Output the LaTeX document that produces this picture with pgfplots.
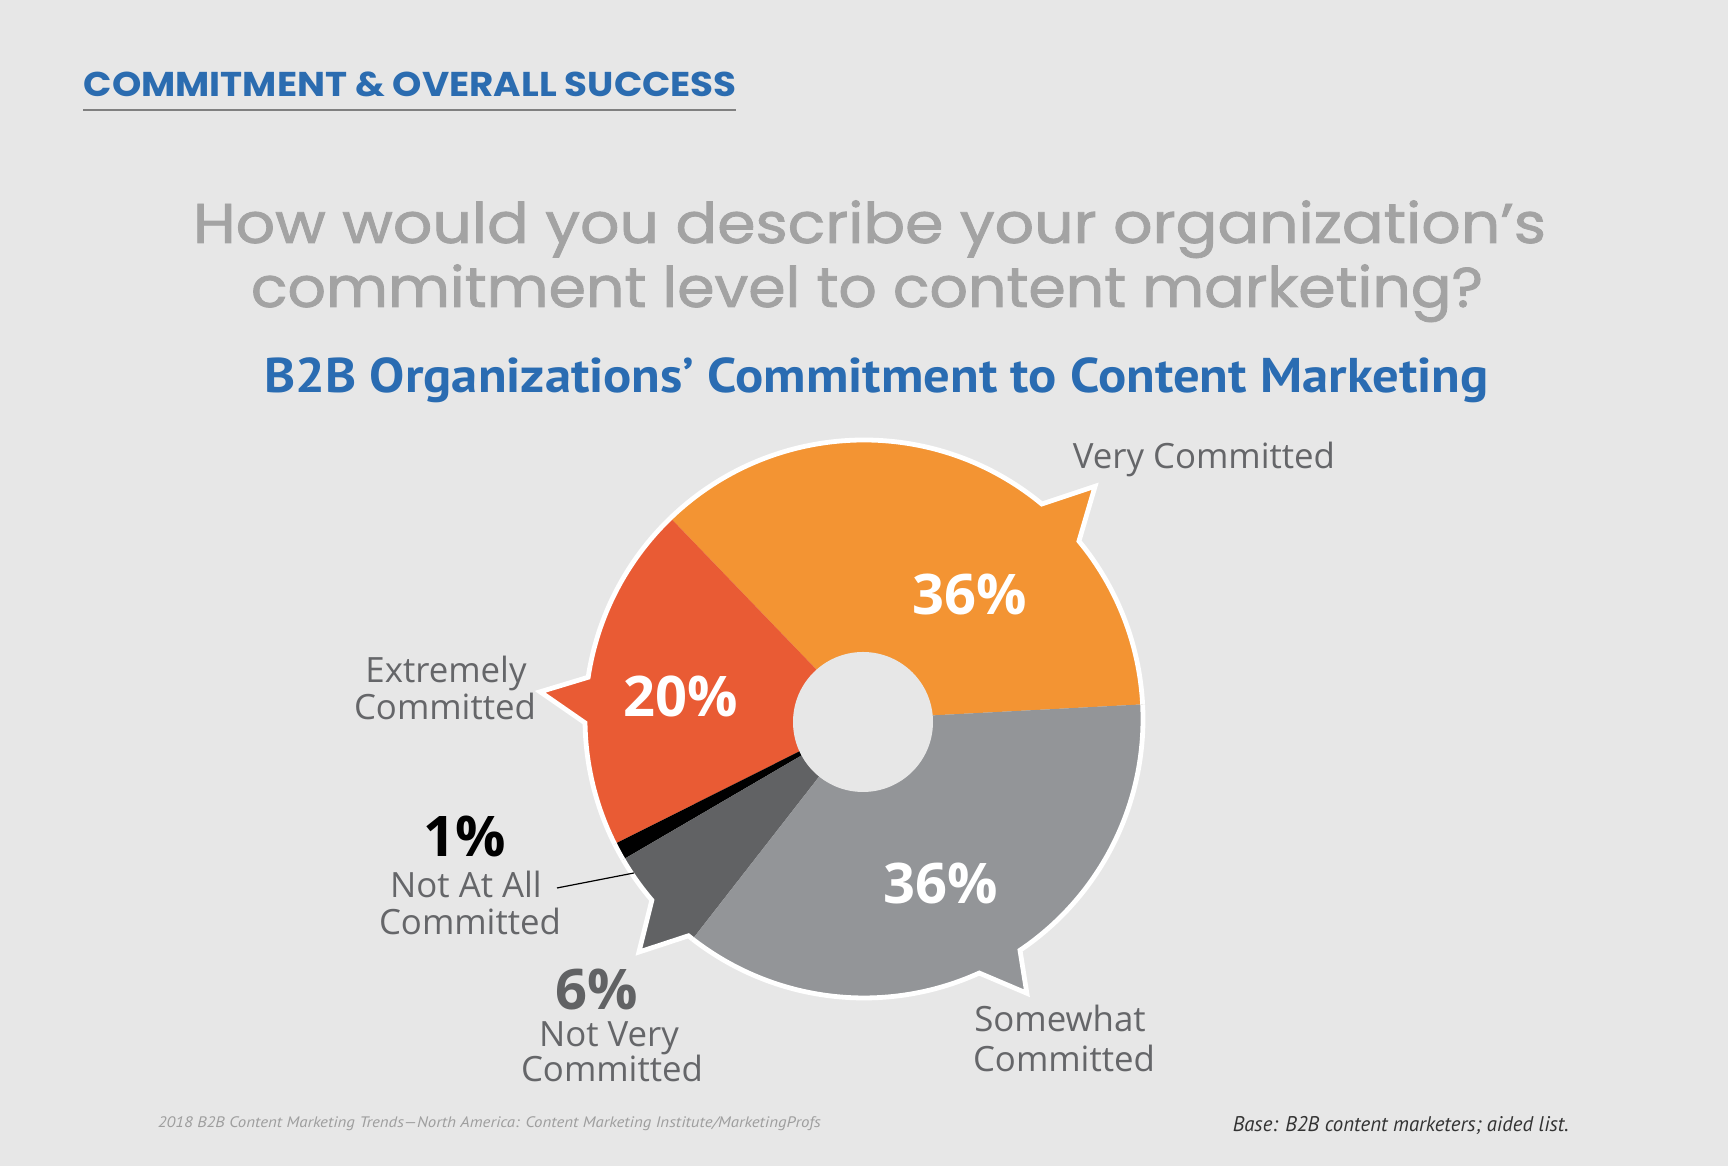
\documentclass[border=0pt]{standalone}
\usepackage{pgfplots}
\pgfplotsset{compat=1.18}
\usepackage{pgfplotstable}
\usepackage{graphicx}
\usepackage{fontspec}
\setmainfont{Open Sans}
\newfontfamily\pop{Poppins}
\newfontfamily\popm[FakeBold=1.4]{Poppins}
\newfontfamily\pts{PT Sans}

\definecolor{bg}{HTML}{E7E7E7}
\definecolor{cOrange}{HTML}{F39433}
\definecolor{cRed}{HTML}{E95B34}
\definecolor{cLight}{HTML}{939598}
\definecolor{cDark}{HTML}{616264}
\definecolor{cBlack}{HTML}{000000}
\definecolor{hdrblue}{HTML}{2B6CB0}
\definecolor{ttlblue}{HTML}{2A6CB2}
\definecolor{qgray}{HTML}{A3A3A3}
\definecolor{lblgray}{HTML}{656669}

\newcommand\fw[2]{\resizebox{#1}{\height}{#2}}

% shares of the pie (per cent)
\pgfplotstableread{
label      value
Very       36
Extremely  20
NotAtAll   1
NotVery    6
Somewhat   36
}\pietable

\pgfplotstablegetelem{0}{value}\of\pietable \pgfmathsetmacro\vA{\pgfplotsretval}
\pgfplotstablegetelem{1}{value}\of\pietable \pgfmathsetmacro\vB{\pgfplotsretval}
\pgfplotstablegetelem{2}{value}\of\pietable \pgfmathsetmacro\vC{\pgfplotsretval}
\pgfplotstablegetelem{3}{value}\of\pietable \pgfmathsetmacro\vD{\pgfplotsretval}
\pgfplotstablegetelem{4}{value}\of\pietable \pgfmathsetmacro\vE{\pgfplotsretval}
\pgfmathsetmacro\tot{\vA+\vB+\vC+\vD+\vE}
\pgfmathsetmacro\aO{3}
\pgfmathsetmacro\aA{\aO+360*\vA/\tot}
\pgfmathsetmacro\aB{\aA+360*\vB/\tot}
\pgfmathsetmacro\aC{\aB+360*\vC/\tot}
\pgfmathsetmacro\aD{\aC+360*\vD/\tot}
\pgfmathsetmacro\aE{\aD+360*\vE/\tot}

\def\cx{864}
\def\cy{447}
\def\R{279}
\def\Rpt{69.75pt}

% slice with a speech-bubble tail: colour, a1, a2, t1, tip angle, tip radius, t2
\newcommand\slicetail[7]{%
  \fill[#1] (axis cs:\cx,\cy) -- (axis cs:{\cx+\R*cos(#2)},{\cy+\R*sin(#2)})
     arc[start angle=#2, end angle=#4, radius=\Rpt]
     -- (axis cs:{\cx+#6*cos(#5)},{\cy+#6*sin(#5)})
     -- (axis cs:{\cx+\R*cos(#7)},{\cy+\R*sin(#7)})
     arc[start angle=#7, end angle=#3, radius=\Rpt] -- cycle;
}
\newcommand\outlinetail[6]{%
  \draw[white, line width=1.2pt] (axis cs:{\cx+\R*cos(#1)},{\cy+\R*sin(#1)})
     arc[start angle=#1, end angle=#3, radius=\Rpt]
     -- (axis cs:{\cx+#5*cos(#4)},{\cy+#5*sin(#4)})
     -- (axis cs:{\cx+\R*cos(#6)},{\cy+\R*sin(#6)})
     arc[start angle=#6, end angle=#2, radius=\Rpt];
}

\begin{document}
\begin{tikzpicture}
\path[use as bounding box] (0,0) rectangle (432pt,291.5pt);
\begin{axis}[
  anchor=south west, at={(0,0)},
  scale only axis, width=432pt, height=291.5pt,
  xmin=0, xmax=1728, ymin=0, ymax=1166,
  enlargelimits=false, hide axis, clip=false,
]
\fill[bg] (axis cs:0,0) rectangle (axis cs:1728,1166);

% header
\node[anchor=base west, inner sep=0, text=hdrblue] at (axis cs:83,1069)
  {\fw{163.25pt}{\pop\bfseries\fontsize{8.6}{10}\selectfont COMMITMENT \& OVERALL SUCCESS}};
\draw[black!50, line width=0.5pt] (axis cs:83,1056) -- (axis cs:736,1056);

% question
\node[anchor=base, inner sep=0, text=qgray] at (axis cs:869.5,923)
  {\fw{338.25pt}{\popm\fontsize{14}{16}\selectfont How would you describe your organization’s}};
\node[anchor=base, inner sep=0, text=qgray] at (axis cs:867,859)
  {\fw{308pt}{\popm\fontsize{14}{16}\selectfont commitment level to content marketing?}};

% chart title
\node[anchor=base, inner sep=0, text=ttlblue] at (axis cs:876.5,773)
  {\fw{306pt}{\pts\bfseries\fontsize{12.2}{14}\selectfont B2B Organizations’ Commitment to Content Marketing}};

% slices
\slicetail{cOrange}{\aO}{\aA}{39.6}{45.2}{328}{50.4}
\slicetail{cRed}{\aA}{\aB}{171.4}{175.2}{325}{180.8}
\fill[cBlack] (axis cs:\cx,\cy) -- (axis cs:{\cx+\R*cos(\aB)},{\cy+\R*sin(\aB)})
     arc[start angle=\aB, end angle=\aC, radius=\Rpt] -- cycle;
\slicetail{cDark}{\aC}{\aD}{220.5}{226}{324}{231}
\slicetail{cLight}{\aD}{\aE}{294.4}{300.7}{319}{304}

% white rim
\outlinetail{\aO}{\aA}{39.6}{45.2}{328}{50.4}
\outlinetail{\aA}{\aB}{171.4}{175.2}{325}{180.8}
\draw[white, line width=1.2pt] (axis cs:{\cx+\R*cos(\aB)},{\cy+\R*sin(\aB)})
     arc[start angle=\aB, end angle=\aC, radius=\Rpt];
\outlinetail{\aC}{\aD}{220.5}{226}{324}{231}
\outlinetail{\aD}{\aE}{294.4}{300.7}{319}{304}

% hole
\fill[bg] (axis cs:863,444) circle[radius=17.5pt];

% values in slices
\node[anchor=base, inner sep=0, text=white] at (axis cs:970,551) {\bfseries\fontsize{14}{16}\selectfont 36\%};
\node[anchor=base, inner sep=0, text=white] at (axis cs:681,449) {\bfseries\fontsize{14}{16}\selectfont 20\%};
\node[anchor=base, inner sep=0, text=white] at (axis cs:941,262) {\bfseries\fontsize{14}{16}\selectfont 36\%};

% outside labels
\node[anchor=base west, inner sep=0, text=lblgray] at (axis cs:1072,697) {\fontsize{8.7}{10}\selectfont Very Committed};
\node[anchor=base, inner sep=0, text=lblgray] at (axis cs:446,483) {\fontsize{8.7}{10}\selectfont Extremely};
\node[anchor=base, inner sep=0, text=lblgray] at (axis cs:445,446) {\fontsize{8.7}{10}\selectfont Committed};

\node[anchor=base, inner sep=0, text=black] at (axis cs:465,309) {\bfseries\fontsize{14}{16}\selectfont 1\%};
\node[anchor=base, inner sep=0, text=lblgray] at (axis cs:466,268) {\fontsize{8.7}{10}\selectfont Not At All};
\node[anchor=base, inner sep=0, text=lblgray] at (axis cs:470,231) {\fontsize{8.7}{10}\selectfont Committed};
\draw[black, line width=0.3pt] (axis cs:557,278) -- (axis cs:634,293);

\node[anchor=base, inner sep=0, text=cDark] at (axis cs:597,156) {\bfseries\fontsize{14}{16}\selectfont 6\%};
\node[anchor=base, inner sep=0, text=lblgray] at (axis cs:609,119) {\fontsize{8.7}{10}\selectfont Not Very};
\node[anchor=base, inner sep=0, text=lblgray] at (axis cs:612,84) {\fontsize{8.7}{10}\selectfont Committed};

\node[anchor=base, inner sep=0, text=lblgray] at (axis cs:1060,134) {\fontsize{8.7}{10}\selectfont Somewhat};
\node[anchor=base, inner sep=0, text=lblgray] at (axis cs:1064,94) {\fontsize{8.7}{10}\selectfont Committed};

% footers
\node[anchor=base west, inner sep=0, text=black!38] at (axis cs:157,38)
  {\fw{165.75pt}{\pts\itshape\fontsize{3.8}{4.5}\selectfont 2018 B2B Content Marketing Trends—North America: Content Marketing Institute/MarketingProfs}};
\node[anchor=base west, inner sep=0, text=black!80] at (axis cs:1232,34)
  {\fw{84pt}{\pts\itshape\fontsize{5.3}{6}\selectfont Base: B2B content marketers; aided list.}};
\end{axis}
\end{tikzpicture}
\end{document}
